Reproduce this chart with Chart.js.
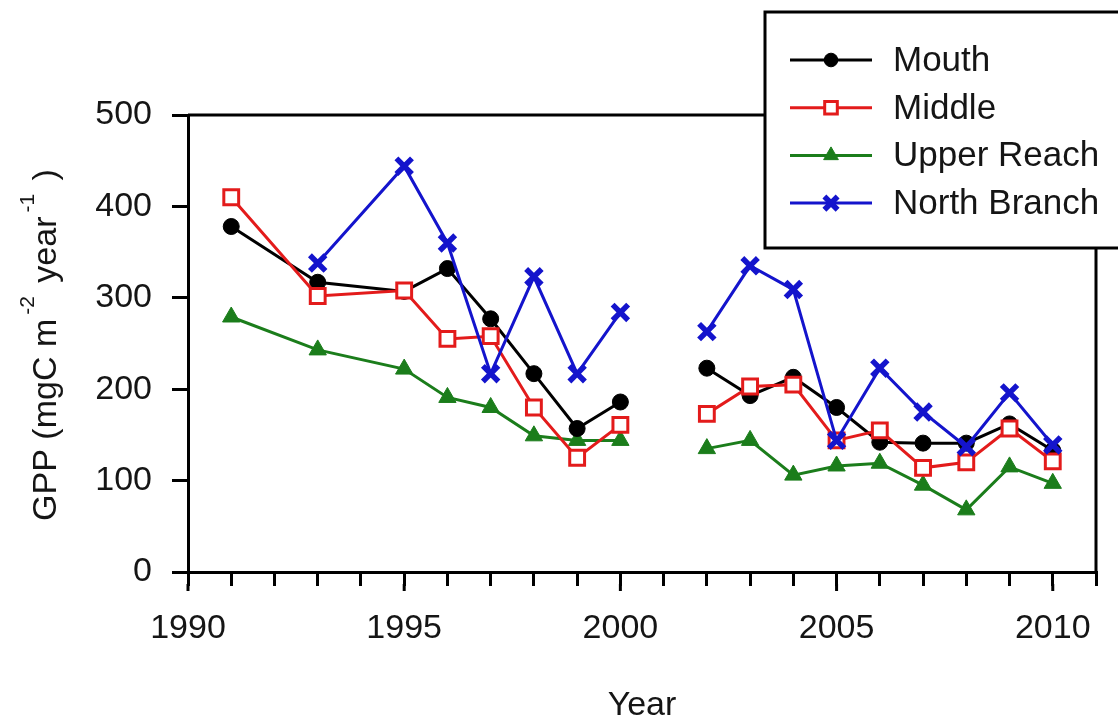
<!DOCTYPE html>
<html>
<head>
<meta charset="utf-8">
<style>
  html, body { margin: 0; padding: 0; background: #fff; }
  canvas { display: block; }
</style>
</head>
<body>
<canvas id="gppChart" width="1118" height="720"></canvas>
<script src="https://cdn.jsdelivr.net/npm/chart.js@4.4.1/dist/chart.umd.min.js"></script>
<script>
// sampling years (2001 left empty so the lines break there)
const years = [1991, 1993, 1995, 1996, 1997, 1998, 1999, 2000, 2001, 2002, 2003, 2004, 2005, 2006, 2007, 2008, 2009, 2010];
const mouth = [378, 317, 307, 332, 277, 217, 157, 186, null, 223, 193, 213, 180, 142, 141, 141, 162, 133];
const middle = [410, 302, 308, 255, 258, 180, 125, 161, null, 173, 203, 205, 144, 155, 114, 120, 157, 121];
const upperReach = [279, 243, 222, 191, 180, 149, 144, 144, null, 135, 144, 106, 116, 119, 95, 68, 115, 97];
const northBranch = [null, 338, 444, 360, 217, 323, 217, 284, null, 263, 335, 309, 144, 223, 175, 137, 196, 139];
const yTicks = [0, 100, 200, 300, 400, 500];
const majorYears = [1990, 1995, 2000, 2005, 2010];

const FONT = '"Liberation Sans", Arial, sans-serif';
const INK = '#151515';

function toPoints(values) {
  return years.map((yr, i) => ({ x: yr, y: values[i] }));
}

// frame, longer major ticks, y title with superscripts, legend box
const decorPlugin = {
  id: 'decor',
  afterDraw(chart) {
    const ctx = chart.ctx;
    const area = chart.chartArea;
    const xs = chart.scales.x;

    ctx.save();
    ctx.strokeStyle = '#000';
    ctx.lineWidth = 3;
    ctx.beginPath();
    ctx.moveTo(area.left, area.top);
    ctx.lineTo(area.right, area.top);
    ctx.lineTo(area.right, area.bottom);
    ctx.stroke();

    // major year ticks are a bit longer
    majorYears.forEach(v => {
      const px = xs.getPixelForValue(v);
      ctx.beginPath();
      ctx.moveTo(px, area.bottom + 12);
      ctx.lineTo(px, area.bottom + 19);
      ctx.stroke();
    });

    // y axis title
    ctx.fillStyle = INK;
    ctx.textBaseline = 'alphabetic';
    const parts = [
      { t: 'GPP (mgC m', sup: false },
      { t: '-2', sup: true },
      { t: ' year', sup: false },
      { t: '-1', sup: true },
      { t: ' )', sup: false }
    ];
    const big = '34px ' + FONT, small = '21px ' + FONT;
    let total = 0;
    parts.forEach(p => {
      ctx.font = p.sup ? small : big;
      p.w = ctx.measureText(p.t).width + (p.sup ? 8 : 0);
      total += p.w;
    });
    ctx.translate(56, 345);
    ctx.rotate(-Math.PI / 2);
    let cx = -total / 2;
    parts.forEach(p => {
      ctx.font = p.sup ? small : big;
      ctx.fillText(p.t, cx + (p.sup ? 4 : 0), p.sup ? -22 : 0);
      cx += p.w;
    });
    ctx.restore();

    // legend
    ctx.save();
    ctx.fillStyle = '#fff';
    ctx.fillRect(765, 12, 400, 236);
    ctx.strokeStyle = '#000';
    ctx.lineWidth = 3;
    ctx.strokeRect(765, 12, 400, 236);
    chart.data.datasets.forEach((ds, i) => {
      const y = 60 + i * 47.7;
      ctx.strokeStyle = ds.borderColor;
      ctx.lineWidth = ds.borderWidth;
      ctx.beginPath();
      ctx.moveTo(790, y);
      ctx.lineTo(872, y);
      ctx.stroke();
      ctx.fillStyle = ds.pointBackgroundColor;
      ctx.strokeStyle = ds.pointBorderColor;
      ctx.lineWidth = ds.pointBorderWidth;
      Chart.helpers.drawPoint(ctx, {
        pointStyle: ds.pointStyle,
        rotation: 0,
        radius: ds.pointRadius * 0.85,
        borderWidth: ds.pointBorderWidth
      }, 831, y);
      ctx.fillStyle = INK;
      ctx.font = '35px ' + FONT;
      ctx.textBaseline = 'alphabetic';
      ctx.fillText(ds.label, 893, y + 11);
    });
    ctx.restore();
  }
};

const ctx = document.getElementById('gppChart').getContext('2d');

new Chart(ctx, {
  type: 'line',
  data: {
    datasets: [
      {
        label: 'Mouth',
        data: toPoints(mouth),
        borderColor: '#000000',
        borderWidth: 3,
        pointStyle: 'circle',
        pointRadius: 8,
        pointBackgroundColor: '#000000',
        pointBorderColor: '#000000',
        pointBorderWidth: 1,
        order: 2
      },
      {
        label: 'Middle',
        data: toPoints(middle),
        borderColor: '#e31b1b',
        borderWidth: 3,
        pointStyle: 'rect',
        pointRadius: 10.5,
        pointBackgroundColor: '#ffffff',
        pointBorderColor: '#e31b1b',
        pointBorderWidth: 3,
        order: 1
      },
      {
        label: 'Upper Reach',
        data: toPoints(upperReach),
        borderColor: '#1b7d1b',
        borderWidth: 3,
        pointStyle: 'triangle',
        pointRadius: 10,
        pointBackgroundColor: '#1b7d1b',
        pointBorderColor: '#1b7d1b',
        pointBorderWidth: 1,
        order: 3
      },
      {
        label: 'North Branch',
        data: toPoints(northBranch),
        borderColor: '#1414cc',
        borderWidth: 3,
        pointStyle: 'crossRot',
        pointRadius: 11,
        pointBackgroundColor: '#1414cc',
        pointBorderColor: '#1414cc',
        pointBorderWidth: 5.5,
        order: 0
      }
    ]
  },
  options: {
    responsive: false,
    animation: false,
    spanGaps: false,
    layout: { padding: { left: 0, top: 115, right: 21, bottom: 0 } },
    plugins: {
      legend: { display: false },
      tooltip: { enabled: false }
    },
    elements: { line: { tension: 0 } },
    scales: {
      x: {
        type: 'linear',
        min: 1990,
        max: 2011,
        afterFit: s => { s.height = 148; },
        border: { display: true, color: '#000', width: 3 },
        grid: { drawOnChartArea: false, color: '#000', lineWidth: 3, tickLength: 14 },
        ticks: {
          stepSize: 1,
          autoSkip: false,
          maxRotation: 0,
          padding: 22,
          color: INK,
          font: { family: FONT, size: 34 },
          callback: v => (v % 5 === 0 ? String(v) : '')
        },
        title: {
          display: true,
          text: 'Year',
          color: INK,
          font: { family: FONT, size: 34 },
          padding: { top: 0, bottom: -6 }
        }
      },
      y: {
        min: 0,
        max: 500,
        afterFit: s => { s.width = 188; },
        afterBuildTicks: s => { s.ticks = yTicks.map(v => ({ value: v })); },
        border: { display: true, color: '#000', width: 3 },
        grid: { drawOnChartArea: false, color: '#000', lineWidth: 3, tickLength: 16 },
        ticks: {
          padding: 20,
          color: INK,
          font: { family: FONT, size: 34 }
        }
      }
    }
  },
  plugins: [decorPlugin]
});
</script>
</body>
</html>
